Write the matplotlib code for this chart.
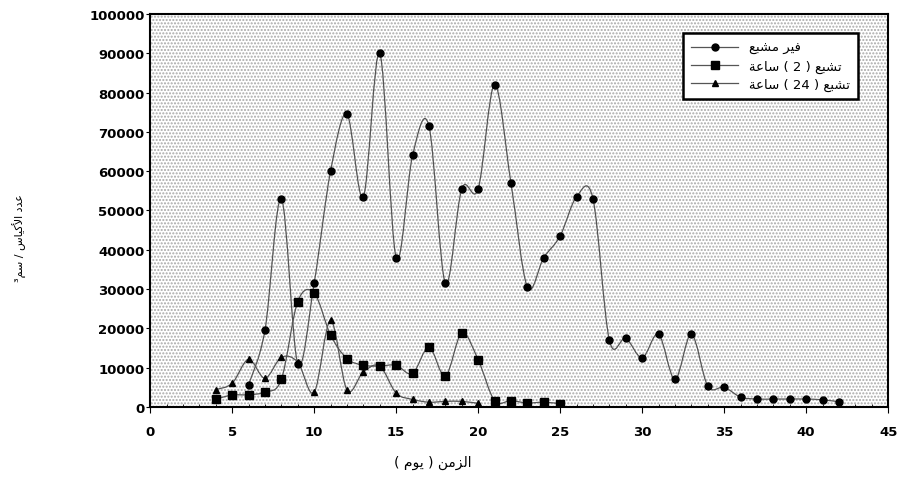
import numpy as np
import matplotlib.pyplot as plt
from matplotlib.path import Path
from matplotlib.patches import PathPatch, Rectangle
from matplotlib.lines import Line2D

# الأيام (day)
days_unsat = np.arange(6, 43)
days_2h = np.arange(4, 26)
days_24h = np.arange(4, 21)

# عدد الأكياس / سم3
cysts_unsat = [5600, 19500, 53000, 11000, 31500, 60000, 74500, 53500, 90000, 38000,
               64000, 71500, 31500, 55500, 55500, 82000, 57000, 30500, 38000, 43500,
               53500, 53000, 17000, 17500, 12500, 18500, 7000, 18500, 5300, 5000,
               2500, 2000, 2000, 2000, 2000, 1800, 1300]
cysts_2h = [2000, 3000, 3100, 3800, 7000, 26800, 29000, 18300, 12300, 10600, 10400,
            10600, 8500, 15200, 7800, 18800, 12000, 1600, 1600, 1000, 1200, 800]
cysts_24h = [4400, 6000, 12100, 7300, 12600, 11400, 3700, 22000, 4300, 8900, 10400,
             3500, 1900, 1200, 1400, 1400, 900]

# Arabic text: shaped glyphs written in right-to-left display order
lbl_unsat = "\uFECA\uFE92\uFEB8\uFEE3 \uFEAE\uFEF4\uFED3"                      # غير مشبع
lbl_2h = "\uFE94\uFECB\uFE8E\uFEB3 ( 2 ) \uFECA\uFE92\uFEB8\uFE97"             # تشبع ( 2 ) ساعة
lbl_24h = "\uFE94\uFECB\uFE8E\uFEB3 ( 24 ) \uFECA\uFE92\uFEB8\uFE97"           # تشبع ( 24 ) ساعة
xlabel = "( \uFEE1\uFEEE\uFEF3 ) \uFEE6\uFEE3\uFEB0\uFEDF\uFE8D"               # الزمن ( يوم )
ylabel = "\u00b3\uFEE2\uFEB3 / \uFEB1\uFE8E\uFEF4\uFEDB\uFEF7\uFE8D \uFEA9\uFEAA\uFECB"  # عدد الأكياس / سم3


def smooth_path(x, y):
    # Excel-like smoothed line: cubic bezier through the points
    x = np.asarray(x, float)
    y = np.asarray(y, float)
    verts = [(x[0], y[0])]
    codes = [Path.MOVETO]
    n = len(x)
    for i in range(n - 1):
        x0, y0 = (x[i - 1], y[i - 1]) if i > 0 else (x[i], y[i])
        x3, y3 = (x[i + 2], y[i + 2]) if i + 2 < n else (x[i + 1], y[i + 1])
        c1 = (x[i] + (x[i + 1] - x0) / 6, y[i] + (y[i + 1] - y0) / 6)
        c2 = (x[i + 1] - (x3 - x[i]) / 6, y[i + 1] - (y3 - y[i]) / 6)
        verts += [c1, c2, (x[i + 1], y[i + 1])]
        codes += [Path.CURVE4] * 3
    return Path(verts, codes)


fig = plt.figure(figsize=(9.1, 4.85), dpi=100)
ax = fig.add_axes([0.165, 0.159, 0.811, 0.81])

# stippled plot background
ax.add_patch(Rectangle((0, 0), 1, 1, transform=ax.transAxes, facecolor='white',
                       edgecolor='#a8a8a8', linewidth=0, hatch='.....', zorder=0))

series = [
    (days_unsat, cysts_unsat, 'o', 5, lbl_unsat),
    (days_2h, cysts_2h, 's', 6, lbl_2h),
    (days_24h, cysts_24h, '^', 5, lbl_24h),
]
handles = []
for d, v, m, ms, lab in series:
    ax.add_patch(PathPatch(smooth_path(d, v), fill=False, edgecolor='#555555',
                           linewidth=0.9, zorder=2))
    ax.plot(d, v, linestyle='none', marker=m, markersize=ms, color='black', zorder=3)
    handles.append(Line2D([], [], color='#555555', linewidth=0.9, marker=m,
                          markersize=ms, markerfacecolor='black', markeredgecolor='black'))

ax.set_xlim(0, 45)
ax.set_ylim(0, 100000)
ax.set_xticks(np.arange(0, 46, 5))
ax.set_xticks(np.arange(0, 46, 1), minor=True)
ax.set_yticks(np.arange(0, 100001, 10000))
ax.tick_params(axis='x', which='major', length=4, pad=9, labelsize=9.5)
ax.tick_params(axis='x', which='minor', length=2, direction='in')
ax.tick_params(axis='y', length=3, pad=1, labelsize=9.5)
for t in ax.get_xticklabels() + ax.get_yticklabels():
    t.set_fontweight('bold')
for s in ax.spines.values():
    s.set_linewidth(1.5)

leg = ax.legend(handles, [lbl_unsat, lbl_2h, lbl_24h], loc='upper right',
                bbox_to_anchor=(0.968, 0.968), fontsize=9.5, handlelength=3.6,
                fancybox=False, framealpha=1, edgecolor='black',
                borderpad=0.6, labelspacing=0.4)
leg.get_frame().set_linewidth(1.8)
for t in leg.get_texts():
    t.set_family('DejaVu Sans')

fig.text(0.475, 0.045, xlabel, ha='center', va='center', fontsize=10,
         family='DejaVu Sans')
fig.text(0.022, 0.51, ylabel, ha='center', va='center', rotation=90, fontsize=8,
         family='DejaVu Sans')

fig.savefig('out.png', dpi=100)
